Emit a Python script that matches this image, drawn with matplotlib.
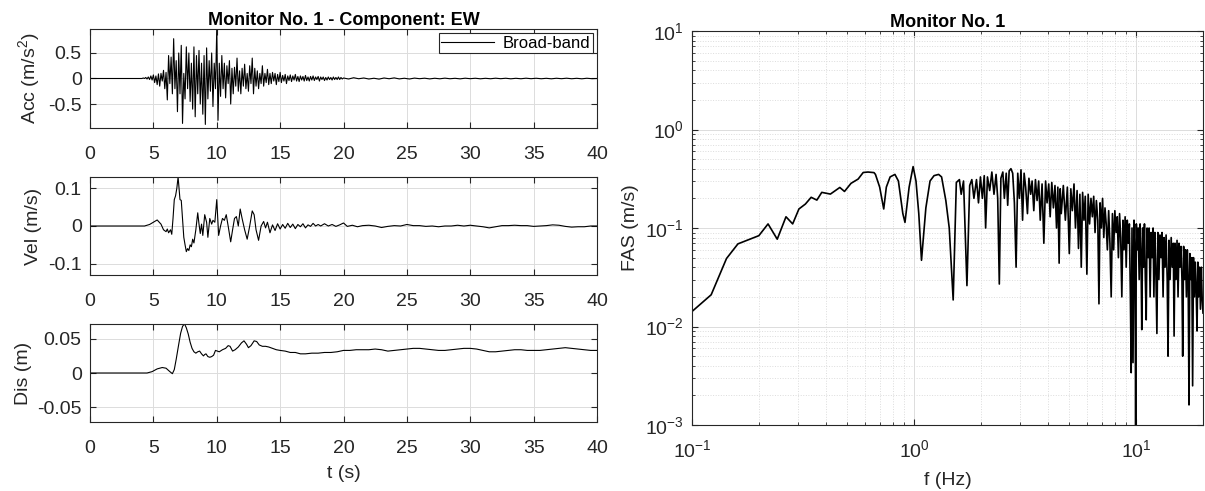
import numpy as np
import matplotlib
matplotlib.use('Agg')
import matplotlib.pyplot as plt
from matplotlib.ticker import LogLocator, NullFormatter

plt.rcParams['font.family'] = ['Liberation Sans', 'DejaVu Sans']
plt.rcParams['mathtext.fontset'] = 'custom'
plt.rcParams['mathtext.rm'] = 'Liberation Sans'
plt.rcParams['mathtext.it'] = 'Liberation Sans:italic'
plt.rcParams['mathtext.bf'] = 'Liberation Sans:bold'

# ---- acceleration (m/s^2): quiet start, main part every 0.1 s from 4.0 s, tail every 0.4 s from 20 s
acc_main_t0, acc_main_dt = 4.0, 0.1
acc_main = [0, 0, 0.01, 0, 0.02, -0.01, 0.03, -0.02, 0.05, -0.03,
            0.07, -0.08, 0.05, -0.12, 0.09, -0.15, 0.1, -0.05, 0.16, -0.2,
            0.12, -0.42, 0.45, -0.1, 0.42, -0.3, 0.78, -0.2, 0.35, -0.65,
            0.5, -0.3, 0.65, -0.88, 0.1, -0.4, 0.62, -0.2, 0.5, -0.45,
            0.3, -0.6, 0.62, -0.75, 0.45, -0.3, 0.55, -0.5, 0.3, -0.7,
            0.45, -0.9, 0.6, -0.4, 0.35, -0.25, 0.5, -0.55, 0.3, -0.2,
            0.97, -0.82, 0.3, -0.35, 0.45, -0.2, 0.3, -0.38, 0.25, -0.1,
            0.35, -0.5, 0.2, -0.3, 0.22, -0.15, 0.4, -0.25, 0.15, -0.3,
            0.2, -0.15, 0.28, -0.2, 0.1, -0.25, 0.25, -0.1, 0.4, -0.3,
            0.2, -0.15, 0.15, -0.2, 0.1, -0.1, 0.25, -0.15, 0.1, -0.08,
            0.18, -0.12, 0.1, -0.1, 0.12, -0.05, 0.1, -0.12, 0.08, -0.06,
            0.12, -0.08, 0.06, -0.05, 0.08, -0.1, 0.05, -0.04, 0.07, -0.06,
            0.05, -0.03, 0.08, -0.05, 0.04, -0.06, 0.05, -0.03, 0.04, -0.05,
            0.06, -0.04, 0.03, -0.05, 0.04, -0.03, 0.05, -0.04, 0.03, -0.02,
            0.04, -0.05, 0.03, -0.02, 0.03, -0.04, 0.02, -0.03, 0.03, -0.02,
            0.02, -0.03, 0.03, -0.02, 0.02, -0.02, 0.03, -0.02, 0.02, -0.01]
acc_tail_t0, acc_tail_dt = 20.0, 0.4
acc_tail = [0.01, -0.01, 0.015, -0.005, 0.01, -0.01, 0.005, -0.012, 0.01, -0.005,
            0.012, -0.008, 0.005, -0.01, 0.008, -0.004, 0.006, -0.008, 0.005, -0.006,
            0.007, -0.005, 0.004, -0.007, 0.006, -0.004, 0.005, -0.006, 0.004, -0.005,
            0.006, -0.004, 0.005, -0.006, 0.004, -0.005, 0.006, -0.004, 0.005, -0.005,
            0.004, -0.006, 0.005, -0.004, 0.006, -0.005, 0.004, -0.006, 0.005, -0.004, 0.0]

# ---- velocity (m/s)
vel_t = [0, 4.3, 4.7, 5.0, 5.3, 5.6, 5.8, 6.0, 6.1, 6.2, 6.35, 6.45, 6.55, 6.65, 6.75,
         6.85, 6.95, 7.05, 7.1, 7.2, 7.3, 7.4, 7.5, 7.6, 7.7, 7.8, 7.9, 8.0, 8.1, 8.2,
         8.35, 8.5, 8.6, 8.7, 8.8, 8.9, 9.05, 9.2, 9.3, 9.45, 9.6, 9.7, 9.85, 10.0, 10.15,
         10.3, 10.45, 10.6, 10.75, 10.9, 11.1, 11.25, 11.4, 11.55, 11.7, 11.85, 12.0, 12.2, 12.4,
         12.6, 12.8, 12.95, 13.1, 13.3, 13.5, 13.7, 13.85, 14.0, 14.2, 14.4, 14.6, 14.8, 15.0,
         15.2, 15.4, 15.6, 15.8, 16.0, 16.2, 16.4, 16.6, 16.8, 17.0, 17.2, 17.4, 17.6, 17.8,
         18.0, 18.2, 18.5, 18.8, 19.1, 19.4, 19.7, 20.0, 20.3, 20.7, 21.1, 21.5, 22.0, 22.5,
         23.0, 23.5, 24.0, 24.5, 25.0, 25.5, 26.0, 26.5, 27.0, 27.5, 28.0, 28.5, 29.0, 29.5,
         30.0, 30.5, 31.0, 31.5, 32.0, 32.5, 33.0, 33.5, 34.0, 34.5, 35.0, 35.5, 36.0, 36.5,
         37.0, 37.5, 38.0, 38.5, 39.0, 39.5, 40.0]
vel_v = [0, 0, 0.004, 0.01, 0.016, 0.005, -0.01, -0.015, -0.008, -0.018, -0.01, -0.022, 0.02, 0.07, 0.08,
         0.1, 0.13, 0.09, 0.07, 0.068, 0.02, -0.03, -0.05, -0.068, -0.06, -0.065, -0.05, -0.055, -0.035, -0.045,
         -0.01, 0.035, 0.005, -0.02, 0.005, -0.025, 0.03, 0.01, -0.03, 0.02, 0.005, 0.015, 0.01, 0.07, -0.025,
         0.0, 0.02, 0.015, 0.03, 0.0, -0.042, -0.01, 0.02, 0.025, 0.0, 0.045, 0.02, -0.01, -0.035,
         0.0, 0.04, 0.03, -0.01, -0.038, 0.0, 0.012, -0.005, 0.01, -0.018, 0.003, -0.012, 0.006, -0.008,
         0.004, -0.006, 0.007, -0.004, 0.005, -0.007, 0.004, -0.002, 0.006, -0.005, 0.003, -0.001, 0.007, 0.0,
         0.004, 0.0, 0.006, 0.0, 0.004, -0.001, 0.003, 0.008, -0.001, 0.002, -0.002, 0.001, 0.002, 0.0,
         -0.004, -0.001, 0.001, 0.0, 0.004, 0.001, 0.001, -0.001, 0.0, -0.002, 0.0, 0.0, 0.002, 0.0,
         0.002, 0.0, -0.002, -0.005, -0.002, 0.001, 0.001, 0.002, 0.001, 0.001, -0.001, 0.0, 0.001, 0.003,
         0.002, -0.001, -0.003, -0.002, -0.002, 0.0, 0.0]

# ---- displacement (m)
dis_t = [0, 4.5, 4.9, 5.3, 5.7, 6.0, 6.3, 6.5, 6.65, 6.8, 7.0, 7.15, 7.3, 7.45, 7.6,
         7.75, 7.9, 8.05, 8.2, 8.35, 8.5, 8.65, 8.8, 8.95, 9.05, 9.15, 9.3, 9.45, 9.6, 9.75,
         9.9, 10.05, 10.2, 10.45, 10.7, 10.9, 11.05, 11.25, 11.45, 11.7, 11.95, 12.15, 12.35, 12.5, 12.7,
         12.95, 13.15, 13.35, 13.6, 13.85, 14.1, 14.4, 14.7, 15.0, 15.4, 15.8, 16.2, 16.6, 17.0,
         17.5, 18.0, 18.5, 19.0, 19.5, 20.0, 20.5, 21.0, 21.5, 22.0, 22.5, 23.0, 23.5, 24.0,
         24.5, 25.0, 25.5, 26.0, 26.5, 27.0, 27.5, 28.0, 28.5, 29.0, 29.5, 30.0, 30.5, 31.0,
         31.5, 32.0, 32.5, 33.0, 33.5, 34.0, 34.5, 35.0, 35.5, 36.0, 36.5, 37.0, 37.5, 38.0,
         38.5, 39.0, 39.5, 40.0]
dis_v = [0, 0, 0.002, 0.006, 0.008, 0.007, 0.002, -0.001, 0.005, 0.02, 0.042, 0.058, 0.068, 0.072, 0.066,
         0.057, 0.045, 0.036, 0.031, 0.029, 0.031, 0.032, 0.028, 0.025, 0.027, 0.028, 0.024, 0.023, 0.024, 0.026,
         0.033, 0.032, 0.031, 0.034, 0.036, 0.040, 0.039, 0.032, 0.034, 0.038, 0.044, 0.047, 0.042, 0.037, 0.040,
         0.047, 0.046, 0.041, 0.039, 0.039, 0.038, 0.036, 0.034, 0.033, 0.032, 0.030, 0.030, 0.028, 0.028,
         0.029, 0.029, 0.030, 0.030, 0.031, 0.033, 0.033, 0.034, 0.034, 0.034, 0.035, 0.034, 0.032, 0.033,
         0.034, 0.035, 0.036, 0.036, 0.035, 0.034, 0.033, 0.033, 0.034, 0.035, 0.036, 0.036, 0.035, 0.033,
         0.031, 0.031, 0.032, 0.033, 0.034, 0.034, 0.033, 0.033, 0.033, 0.034, 0.035, 0.036, 0.037, 0.036,
         0.035, 0.034, 0.033, 0.033]

# ---- Fourier amplitude spectrum (m/s)
fas_f = [0.100, 0.122, 0.143, 0.161, 0.200, 0.220, 0.242, 0.265, 0.284, 0.303, 0.324, 0.344, 0.365, 0.384,
         0.420, 0.463, 0.486, 0.520, 0.560, 0.590, 0.620, 0.660, 0.670, 0.700, 0.730, 0.750, 0.780, 0.820,
         0.850, 0.890, 0.910, 0.950, 0.990, 1.020, 1.050, 1.080, 1.130, 1.180, 1.230, 1.290, 1.330, 1.390,
         1.440, 1.500, 1.550, 1.600, 1.630, 1.670, 1.730, 1.780, 1.820, 1.860, 1.910, 1.950, 1.990, 2.030,
         2.070, 2.100, 2.140, 2.190, 2.240, 2.290, 2.340, 2.380, 2.420, 2.460, 2.510, 2.550, 2.600, 2.640,
         2.680, 2.730, 2.780, 2.830, 2.880, 2.930, 2.980, 3.030, 3.080, 3.130, 3.180, 3.240, 3.290, 3.350,
         3.400, 3.460, 3.520, 3.580, 3.640, 3.700, 3.770, 3.840, 3.910, 3.970, 4.040, 4.100, 4.170, 4.240,
         4.310, 4.380, 4.440, 4.500, 4.550, 4.600, 4.700, 4.800, 4.900, 5.000, 5.080, 5.160, 5.250, 5.330,
         5.420, 5.500, 5.580, 5.660, 5.740, 5.820, 5.900, 6.000, 6.080, 6.170, 6.260, 6.350, 6.440, 6.530,
         6.620, 6.720, 6.800, 6.880, 6.970, 7.060, 7.150, 7.240, 7.330, 7.420, 7.520, 7.620, 7.720, 7.820,
         7.920, 8.020, 8.120, 8.220, 8.320, 8.420, 8.520, 8.620, 8.720, 8.820, 8.920, 9.020, 9.120, 9.220,
         9.320, 9.420, 9.500, 9.580, 9.680, 9.780, 9.880, 9.950, 10.02, 10.12, 10.22, 10.32, 10.42, 10.52,
         10.60, 10.70, 10.80, 10.90, 11.00, 11.10, 11.20, 11.32, 11.44, 11.56, 11.68, 11.80, 11.92, 12.02,
         12.14, 12.26, 12.40, 12.52, 12.66, 12.80, 12.94, 13.08, 13.22, 13.36, 13.50, 13.64, 13.80, 13.92,
         14.06, 14.22, 14.38, 14.54, 14.70, 14.82, 14.96, 15.12, 15.28, 15.44, 15.60, 15.76, 15.92, 16.08,
         16.20, 16.36, 16.52, 16.68, 16.84, 17.00, 17.15, 17.30, 17.45, 17.62, 17.80, 17.96, 18.12, 18.30,
         18.46, 18.62, 18.80, 18.96, 19.12, 19.30, 19.48, 19.66, 19.82, 20.00]
fas_a = [0.0142, 0.021, 0.049, 0.069, 0.0836, 0.11, 0.077, 0.13, 0.11, 0.156, 0.175, 0.205, 0.192, 0.23,
         0.221, 0.258, 0.235, 0.284, 0.314, 0.366, 0.37, 0.365, 0.35, 0.26, 0.156, 0.26, 0.33, 0.35,
         0.30, 0.14, 0.114, 0.26, 0.42, 0.30, 0.14, 0.047, 0.16, 0.30, 0.34, 0.35, 0.33, 0.19,
         0.10, 0.0186, 0.29, 0.31, 0.22, 0.30, 0.026, 0.27, 0.31, 0.20, 0.31, 0.18, 0.33, 0.20,
         0.34, 0.10, 0.33, 0.24, 0.37, 0.22, 0.35, 0.20, 0.027, 0.32, 0.37, 0.20, 0.36, 0.17,
         0.38, 0.40, 0.36, 0.18, 0.040, 0.36, 0.20, 0.39, 0.12, 0.36, 0.26, 0.14, 0.32, 0.22,
         0.30, 0.15, 0.31, 0.19, 0.30, 0.12, 0.28, 0.070, 0.30, 0.18, 0.28, 0.13, 0.29, 0.16,
         0.27, 0.10, 0.26, 0.044, 0.25, 0.14, 0.27, 0.12, 0.26, 0.055, 0.25, 0.15, 0.28, 0.10,
         0.24, 0.062, 0.22, 0.040, 0.23, 0.12, 0.21, 0.034, 0.22, 0.11, 0.20, 0.13, 0.21, 0.09,
         0.19, 0.12, 0.017, 0.18, 0.10, 0.20, 0.08, 0.16, 0.11, 0.060, 0.15, 0.07, 0.020, 0.14,
         0.06, 0.15, 0.09, 0.13, 0.05, 0.14, 0.08, 0.020, 0.12, 0.06, 0.13, 0.04, 0.12, 0.07,
         0.11, 0.02, 0.0034, 0.10, 0.0043, 0.12, 0.05, 0.0009, 0.11, 0.06, 0.10, 0.03, 0.11, 0.05,
         0.0093, 0.10, 0.04, 0.11, 0.03, 0.0117, 0.10, 0.05, 0.10, 0.02, 0.09, 0.05, 0.10, 0.020,
         0.09, 0.04, 0.0085, 0.09, 0.03, 0.085, 0.05, 0.09, 0.02, 0.08, 0.04, 0.085, 0.03, 0.005,
         0.075, 0.03, 0.08, 0.04, 0.07, 0.008, 0.07, 0.03, 0.075, 0.02, 0.07, 0.04, 0.065, 0.03,
         0.005, 0.065, 0.03, 0.06, 0.02, 0.06, 0.03, 0.0016, 0.055, 0.03, 0.05, 0.0025, 0.05, 0.02,
         0.045, 0.025, 0.009, 0.045, 0.02, 0.04, 0.015, 0.04, 0.02, 0.0137]

acc_t = np.concatenate([[0.0],
                        acc_main_t0 + acc_main_dt * np.arange(len(acc_main)),
                        acc_tail_t0 + acc_tail_dt * np.arange(len(acc_tail))])
acc_v = np.concatenate([[0.0], acc_main, acc_tail])

TXT = '#262626'
GRID = '#dcdcdc'
W, H = 1205, 491


def style(ax):
    for s in ax.spines.values():
        s.set_color(TXT)
        s.set_linewidth(0.8)
    ax.tick_params(direction='in', top=True, right=True, length=4, width=0.8,
                   color=TXT, labelcolor=TXT, labelsize=14, pad=6)
    ax.tick_params(axis='x', pad=13)
    ax.grid(True, color=GRID, linewidth=0.7)
    ax.set_axisbelow(True)


def box(l, t, r, b):
    return [l / W, 1 - b / H, (r - l) / W, (b - t) / H]


fig = plt.figure(figsize=(W / 100, H / 100), dpi=100)

ax1 = fig.add_axes(box(90, 29, 597, 128))
ax2 = fig.add_axes(box(90, 177, 597, 275))
ax3 = fig.add_axes(box(90, 324, 597, 422))
ax4 = fig.add_axes(box(692, 31, 1203, 425))

ax1.plot(acc_t, acc_v, color='black', linewidth=0.8, label='Broad-band')
ax1.set_ylim(-0.97, 0.97)
ax1.set_yticks([-0.5, 0, 0.5])
ax1.set_yticklabels(['-0.5', '0', '0.5'])
ax1.set_ylabel('Acc (m/s$^2$)', fontsize=14, color=TXT)
ax1.set_title('Monitor No. 1 - Component: EW', fontsize=13, fontweight='bold', color='black', pad=3)
leg = ax1.legend(loc='upper right', fontsize=12, frameon=True, fancybox=False,
                 edgecolor=TXT, framealpha=1, handlelength=3.2, borderpad=0.15,
                 borderaxespad=0.25, handletextpad=0.5)
leg.get_frame().set_linewidth(0.8)

ax2.plot(vel_t, vel_v, color='black', linewidth=0.8)
ax2.set_ylim(-0.13, 0.13)
ax2.set_yticks([-0.1, 0, 0.1])
ax2.set_yticklabels(['-0.1', '0', '0.1'])
ax2.set_ylabel('Vel (m/s)', fontsize=14, color=TXT)

ax3.plot(dis_t, dis_v, color='black', linewidth=0.8)
ax3.set_ylim(-0.0716, 0.0716)
ax3.set_yticks([-0.05, 0, 0.05])
ax3.set_yticklabels(['-0.05', '0', '0.05'])
ax3.set_ylabel('Dis (m)', fontsize=14, color=TXT)
ax3.set_xlabel('t (s)', fontsize=14, color=TXT, labelpad=6)

for ax in (ax1, ax2, ax3):
    ax.set_xlim(0, 40)
    ax.set_xticks(range(0, 41, 5))
    style(ax)

ax4.plot(fas_f, fas_a, color='black', linewidth=1.2)
ax4.set_xscale('log')
ax4.set_yscale('log')
ax4.set_xlim(0.1, 20)
ax4.set_ylim(1e-3, 10)
style(ax4)
ax4.tick_params(axis='x', pad=10)
ax4.xaxis.set_minor_locator(LogLocator(base=10, subs=np.arange(2, 10)))
ax4.yaxis.set_minor_locator(LogLocator(base=10, subs=np.arange(2, 10)))
ax4.xaxis.set_minor_formatter(NullFormatter())
ax4.yaxis.set_minor_formatter(NullFormatter())
ax4.tick_params(which='minor', direction='in', top=True, right=True, length=2, color=TXT)
ax4.grid(True, which='minor', color=GRID, linestyle=':', linewidth=0.7)
ax4.set_title('Monitor No. 1', fontsize=13, fontweight='bold', color='black', pad=3)
ax4.set_xlabel('f (Hz)', fontsize=14, color=TXT, labelpad=8)
ax4.set_ylabel('FAS (m/s)', fontsize=14, color=TXT)

fig.savefig('out.png', dpi=100)
